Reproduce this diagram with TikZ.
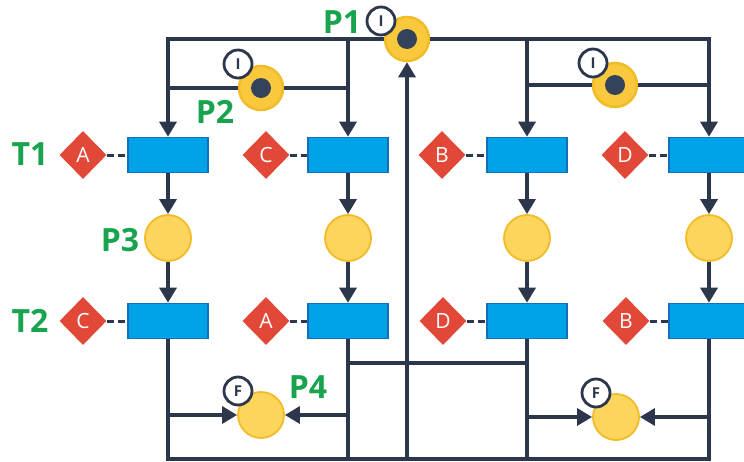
\documentclass[tikz,border=0pt]{standalone}
\usepackage{fontspec}
\setmainfont{Open Sans}
\usepackage{tikz}
\usetikzlibrary{arrows.meta,positioning,shapes.geometric}
\usepackage{xcolor}
\definecolor{netline}{RGB}{44,55,75}
\definecolor{transfill}{RGB}{0,163,232}
\definecolor{transdraw}{RGB}{22,112,185}
\definecolor{condred}{RGB}{226,72,56}
\definecolor{placefill}{RGB}{253,212,92}
\definecolor{placedraw}{RGB}{240,188,40}
\definecolor{ringfill}{RGB}{250,200,60}
\definecolor{tokendark}{RGB}{52,66,92}
\definecolor{labelgreen}{RGB}{24,163,78}
\tikzset{
  trans/.style={draw=transdraw,fill=transfill,line width=1.6pt,minimum width=80pt,minimum height=35pt,inner sep=0pt},
  cond/.style={diamond,fill=condred,minimum width=47pt,minimum height=48pt,inner sep=0pt,
    text=white,font=\fontsize{21}{21}\selectfont},
  pnode/.style={circle,draw=placedraw,fill=placefill,line width=1.8pt,minimum size=46pt,inner sep=0pt},
  mplace/.style={pnode,draw=placedraw,fill=ringfill,line width=2.5pt,minimum size=44pt},
  tokdot/.style={circle,fill=tokendark,minimum size=20pt,inner sep=0pt},
  tagc/.style={circle,draw=netline,fill=white,line width=2.8pt,minimum size=28pt,inner sep=0pt,
    font=\bfseries\fontsize{15}{15}\selectfont,text=netline},
  lbl/.style={text=labelgreen,font=\bfseries\fontsize{32}{32}\selectfont},
  flow/.style={-{Triangle[length=15pt,width=17pt]},line width=3.3pt,draw=netline},
  wire/.style={line width=3.3pt,draw=netline},
  link/.style={line width=3pt,draw=netline,dash pattern=on 7pt off 4pt}
}
\begin{document}
\begin{tikzpicture}[x=1pt,y=-1pt]
  \useasboundingbox (0,0) rectangle (744,461);

  \node[trans] (t11) at (168,155) {};
  \node[trans] (t12) at (348,155) {};
  \node[trans] (t13) at (527,155) {};
  \node[trans] (t14) at (709,155) {};
  \node[trans] (t21) at (168,321) {};
  \node[trans] (t22) at (348,321) {};
  \node[trans] (t23) at (527,321) {};
  \node[trans] (t24) at (709,321) {};

  \node[cond] (d11) at (83,155) {A};
  \node[cond] (d12) at (266,155) {C};
  \node[cond] (d13) at (442,155) {B};
  \node[cond] (d14) at (625,155) {D};
  \node[cond] (d21) at (83,321) {C};
  \node[cond] (d22) at (266,321) {A};
  \node[cond] (d23) at (443,321) {D};
  \node[cond] (d24) at (626,321) {B};

  \node[pnode] (p31) at (168,238) {};
  \node[pnode] (p32) at (348,238) {};
  \node[pnode] (p33) at (527,238) {};
  \node[pnode] (p34) at (709,238) {};

  \node[mplace] (pa) at (407,39) {};
  \node[tokdot] at (pa) {};
  \node[mplace] (pb) at (261,88) {};
  \node[tokdot] at (pb) {};
  \node[mplace] (pc) at (615,85) {};
  \node[tokdot] at (pc) {};
  \node[pnode] (pd) at (261,415) {};
  \node[pnode] (pe) at (616,417) {};

  \node[tagc] (ia) at (381,21) {I};
  \node[tagc] (ib) at (238,64) {I};
  \node[tagc] (ic) at (593,63) {I};
  \node[tagc] (fd) at (238,391) {F};
  \node[tagc] (fe) at (596,393) {F};

  \node[lbl] (lt1) at (30,154) {T1};
  \node[lbl] (lt2) at (30,321) {T2};
  \node[lbl] (lp1) at (342,22) {P1};
  \node[lbl] (lp2) at (215,112) {P2};
  \node[lbl] (lp3) at (120,240) {P3};
  \node[lbl] (lp4) at (308,387) {P4};

  \coordinate (c12) at (348,39);
  \coordinate (c13) at (527,39);
  \coordinate (j11) at (168,88);
  \coordinate (j12) at (348,88);
  \coordinate (j13) at (527,85);
  \coordinate (j14) at (709,85);
  \coordinate (m2) at (348,363);
  \coordinate (m3) at (527,363);
  \coordinate (a1) at (168,415);
  \coordinate (a2) at (348,415);
  \coordinate (a3) at (527,417);
  \coordinate (a4) at (709,417);
  \coordinate (b1) at (168,459);
  \coordinate (b2) at (348,459);
  \coordinate (b3) at (527,459);
  \coordinate (b4) at (709,459);
  \coordinate (bc) at (407,459);

  \draw[flow] (pa) -| (t11);
  \draw[flow] (pa) -| (t14);
  \draw[flow] (c12) -- (t12);
  \draw[flow] (c13) -- (t13);
  \draw[wire] (pb) -- (j11);
  \draw[wire] (pb) -- (j12);
  \draw[wire] (pc) -- (j13);
  \draw[wire] (pc) -- (j14);
  \draw[flow] (bc) -- (pa);

  \foreach \i in {1,2,3,4} {
    \draw[flow] (t1\i) -- (p3\i);
    \draw[flow] (p3\i) -- (t2\i);
    \draw[link] (d1\i) -- (t1\i);
    \draw[link] (d2\i) -- (t2\i);
  }

  \draw[wire] (t21) -- (b1) -- (b4) -- (t24);
  \draw[wire] (t22) -- (b2);
  \draw[wire] (t23) -- (b3);
  \draw[wire] (m2) -- (m3);
  \draw[flow] (a1) -- (pd);
  \draw[flow] (a2) -- (pd);
  \draw[flow] (a3) -- (pe);
  \draw[flow] (a4) -- (pe);
\end{tikzpicture}
\end{document}
